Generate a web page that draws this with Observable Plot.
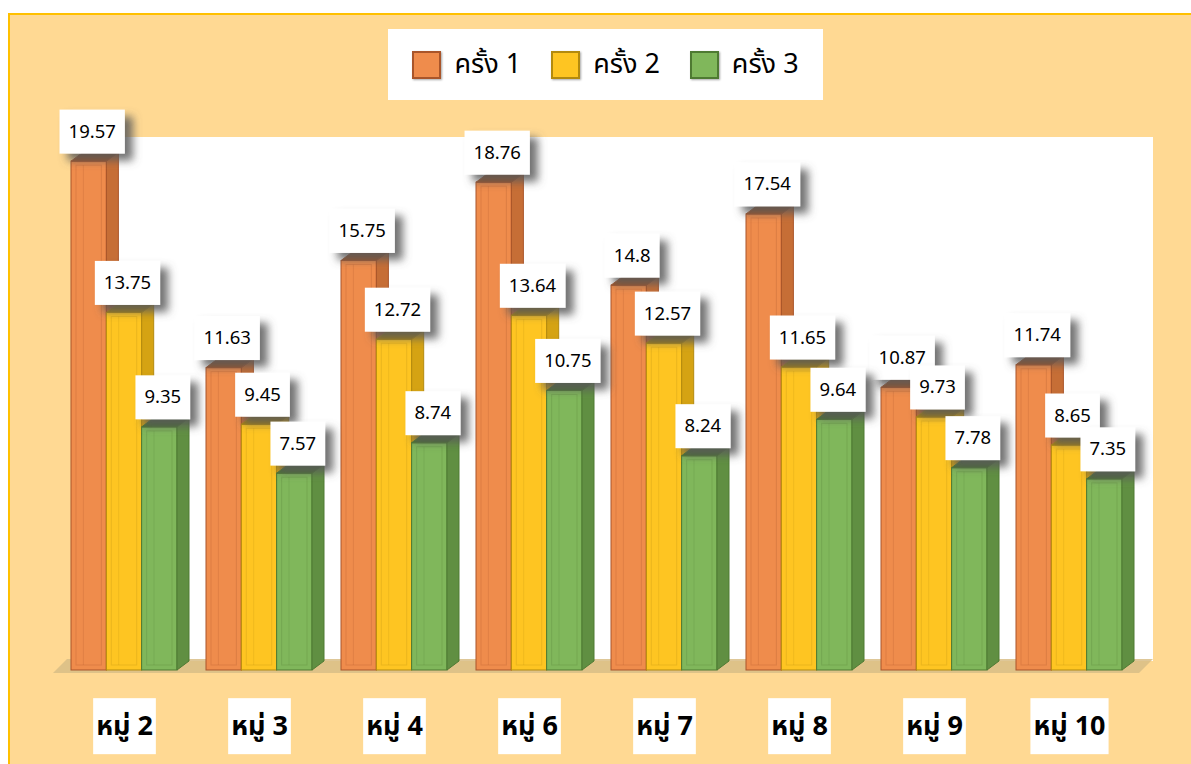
<!DOCTYPE html>
<html>
<head>
<meta charset="utf-8">
<script src="https://cdn.jsdelivr.net/npm/d3@7"></script>
<script src="https://cdn.jsdelivr.net/npm/@observablehq/plot@0.6"></script>
<style>
  html, body { margin: 0; padding: 0; background: #ffffff; width: 1191px; height: 764px; overflow: hidden; }
  body { position: relative; font-family: Tahoma, "Noto Sans Thai", "Leelawadee UI", "Noto Sans", "DejaVu Sans", sans-serif; }
  #frame { position: absolute; left: 8px; top: 13px; width: 1200px; height: 780px; background: #FFD993; border: 2px solid #FFC000; box-sizing: border-box; }
  #legend { position: absolute; left: 388px; top: 29px; width: 435px; height: 71px; background: #ffffff; display: flex; align-items: center; justify-content: center; box-sizing: border-box; white-space: nowrap; }
  .item { display: flex; align-items: center; margin: 0 15px; font-size: 27px; color: #000; flex-shrink: 0; white-space: nowrap; }
  .sw { width: 29px; height: 28px; box-sizing: border-box; margin-right: 13px; flex-shrink: 0; box-shadow: 1px 1px 2px rgba(0,0,0,0.35); }
  #chart { position: absolute; left: 0; top: 0; }
</style>
</head>
<body>
<div id="frame"></div>
<div id="chart"></div>
<div id="legend"></div>
<script>
// ---- data ----
const groups = ["หมู่ 2", "หมู่ 3", "หมู่ 4", "หมู่ 6", "หมู่ 7", "หมู่ 8", "หมู่ 9", "หมู่ 10"];
const seriesNames = ["ครั้ง 1", "ครั้ง 2", "ครั้ง 3"];
const round1 = [19.57, 11.63, 15.75, 18.76, 14.8, 17.54, 10.87, 11.74];
const round2 = [13.75, 9.45, 12.72, 13.64, 12.57, 11.65, 9.73, 8.65];
const round3 = [9.35, 7.57, 8.74, 10.75, 8.24, 9.64, 7.78, 7.35];
const labels1 = ["19.57", "11.63", "15.75", "18.76", "14.8", "17.54", "10.87", "11.74"];
const labels2 = ["13.75", "9.45", "12.72", "13.64", "12.57", "11.65", "9.73", "8.65"];
const labels3 = ["9.35", "7.57", "8.74", "10.75", "8.24", "9.64", "7.78", "7.35"];

// ---- styles ----
const palette = [
  {front: "#EF8C4C", side: "#C66E36", top: "#9E5427", stroke: "#A9552A"},
  {front: "#FEC522", side: "#D5A313", top: "#A8820F", stroke: "#B38A0E"},
  {front: "#80B75B", side: "#608F42", top: "#4A7033", stroke: "#4E7A32"}
];
const W = 1191, H = 764;
const mL = 70, mR = 68, mT = 137, mB = 94;
const padIn = 0.217;
const depthX = 12, depthY = 9;
const band = (W - mL - mR) / (groups.length - padIn) * (1 - padIn);
const bw = band / 3;

const valueSets = [round1, round2, round3];
const labelSets = [labels1, labels2, labels3];
const tables = valueSets.map((vals, s) => groups.map((g, i) => ({group: g, series: seriesNames[s], value: vals[i], label: labelSets[s][i]})));

const marks = [];
tables.forEach((t, s) => {
  marks.push(Plot.barY(t, {
    x: "group", y: "value",
    fill: palette[s].front, stroke: palette[s].stroke, strokeWidth: 1,
    insetLeft: s * bw, insetRight: (2 - s) * bw
  }));
});
tables.forEach((t, s) => {
  marks.push(Plot.text(t, {
    x: "group", y: "value", text: "label",
    dx: (s - 1) * bw + 3, dy: -30,
    fontSize: 18.5, fill: "#000"
  }));
});
marks.push(Plot.axisX({tickSize: 0, tickPadding: 45, fontSize: 27, fontWeight: "bold", label: null}));

const plot = Plot.plot({
  width: W, height: H,
  marginLeft: mL, marginRight: mR, marginTop: mT, marginBottom: mB,
  style: {background: "transparent", fontFamily: "Tahoma, 'Noto Sans Thai', 'Leelawadee UI', 'Noto Sans', 'DejaVu Sans', sans-serif", overflow: "visible"},
  x: {domain: groups, paddingInner: padIn, paddingOuter: 0, axis: null},
  y: {domain: [0, 20.5], axis: null},
  marks
});
document.getElementById("chart").appendChild(plot);

// ---- decorations & 3D faces via d3 on the Plot output ----
const svg = d3.select(plot);
const NS = "http://www.w3.org/2000/svg";
const xs = plot.scale("x"), ys = plot.scale("y");
const xr = xs.range, y0 = ys.apply(0), yTop = ys.range[1];

const defs = svg.insert("defs", ":first-child");
const f = defs.append("filter").attr("id", "shadow").attr("x", "-40%").attr("y", "-40%").attr("width", "190%").attr("height", "190%");
f.append("feDropShadow").attr("dx", 8).attr("dy", 7).attr("stdDeviation", 4.5).attr("flood-color", "#5a5a5a").attr("flood-opacity", 0.85);

// back wall + floor
const deco = svg.insert("g", "defs + *");
deco.append("rect").attr("x", xr[0] + 10).attr("y", yTop).attr("width", xr[1] + 30 - xr[0] - 10).attr("height", y0 - depthY - yTop).attr("fill", "#ffffff");
deco.append("polygon")
  .attr("points", [[xr[0] - 17, y0 + 3], [xr[0] - 3, y0 - depthY - 2], [xr[1] + 30, y0 - depthY - 2], [xr[1] + 16, y0 + 3]].map(p => p.join(",")).join(" "))
  .attr("fill", "#D8BD86").attr("opacity", 0.85);

// 3D bars
svg.selectAll('g[aria-label="bar"]').each(function(_, gi) {
  const c = palette[gi];
  d3.select(this).selectAll("rect").each(function() {
    const r = d3.select(this);
    const x = +r.attr("x"), y = +r.attr("y"), w = +r.attr("width"), h = +r.attr("height");
    const parent = this.parentNode, next = this.nextSibling;
    const side = document.createElementNS(NS, "polygon");
    side.setAttribute("points", [[x + w, y], [x + w + depthX, y - depthY], [x + w + depthX, y + h - depthY], [x + w, y + h]].map(p => p.join(",")).join(" "));
    side.setAttribute("fill", c.side); side.setAttribute("stroke", c.stroke); side.setAttribute("stroke-width", 1);
    const top = document.createElementNS(NS, "polygon");
    top.setAttribute("points", [[x, y], [x + depthX, y - depthY], [x + w + depthX, y - depthY], [x + w, y]].map(p => p.join(",")).join(" "));
    top.setAttribute("fill", c.top); top.setAttribute("stroke", c.stroke); top.setAttribute("stroke-width", 1);
    const inner = document.createElementNS(NS, "rect");
    inner.setAttribute("x", x + 5); inner.setAttribute("y", y + 4); inner.setAttribute("width", Math.max(0, w - 10)); inner.setAttribute("height", Math.max(0, h - 9));
    inner.setAttribute("fill", "none"); inner.setAttribute("stroke", c.stroke); inner.setAttribute("stroke-opacity", 0.25); inner.setAttribute("stroke-width", 1);
    const ln = document.createElementNS(NS, "line");
    ln.setAttribute("x1", x + w * 0.35); ln.setAttribute("x2", x + w * 0.35); ln.setAttribute("y1", y + 4); ln.setAttribute("y2", y + h - 5);
    ln.setAttribute("stroke", c.stroke); ln.setAttribute("stroke-opacity", 0.2); ln.setAttribute("stroke-width", 1);
    parent.insertBefore(side, next);
    parent.insertBefore(top, next);
    parent.insertBefore(inner, next);
    parent.insertBefore(ln, next);
  });
});

// value label boxes
svg.selectAll('g[aria-label="text"] text').each(function() {
  const bb = this.getBBox();
  const r = document.createElementNS(NS, "rect");
  const cy = bb.y + bb.height / 2;
  r.setAttribute("x", bb.x - 9); r.setAttribute("y", cy - 22);
  r.setAttribute("width", bb.width + 18); r.setAttribute("height", 44);
  r.setAttribute("fill", "#ffffff"); r.setAttribute("filter", "url(#shadow)");
  if (this.getAttribute("transform")) r.setAttribute("transform", this.getAttribute("transform"));
  this.parentNode.insertBefore(r, this);
});

// axis label boxes
svg.selectAll('g[aria-label="x-axis tick label"] text').each(function() {
  const bb = this.getBBox();
  const r = document.createElementNS(NS, "rect");
  const cy = bb.y + bb.height / 2;
  r.setAttribute("x", bb.x - 3); r.setAttribute("y", cy - 28);
  r.setAttribute("width", bb.width + 6); r.setAttribute("height", 56);
  r.setAttribute("fill", "#ffffff");
  if (this.getAttribute("transform")) r.setAttribute("transform", this.getAttribute("transform"));
  this.parentNode.insertBefore(r, this);
});

// legend
const lg = d3.select("#legend");
seriesNames.forEach((n, i) => {
  const it = lg.append("div").attr("class", "item");
  it.append("div").attr("class", "sw").style("background", palette[i].front).style("border", `2px solid ${palette[i].stroke}`);
  it.append("span").text(n);
});
</script>
</body>
</html>
